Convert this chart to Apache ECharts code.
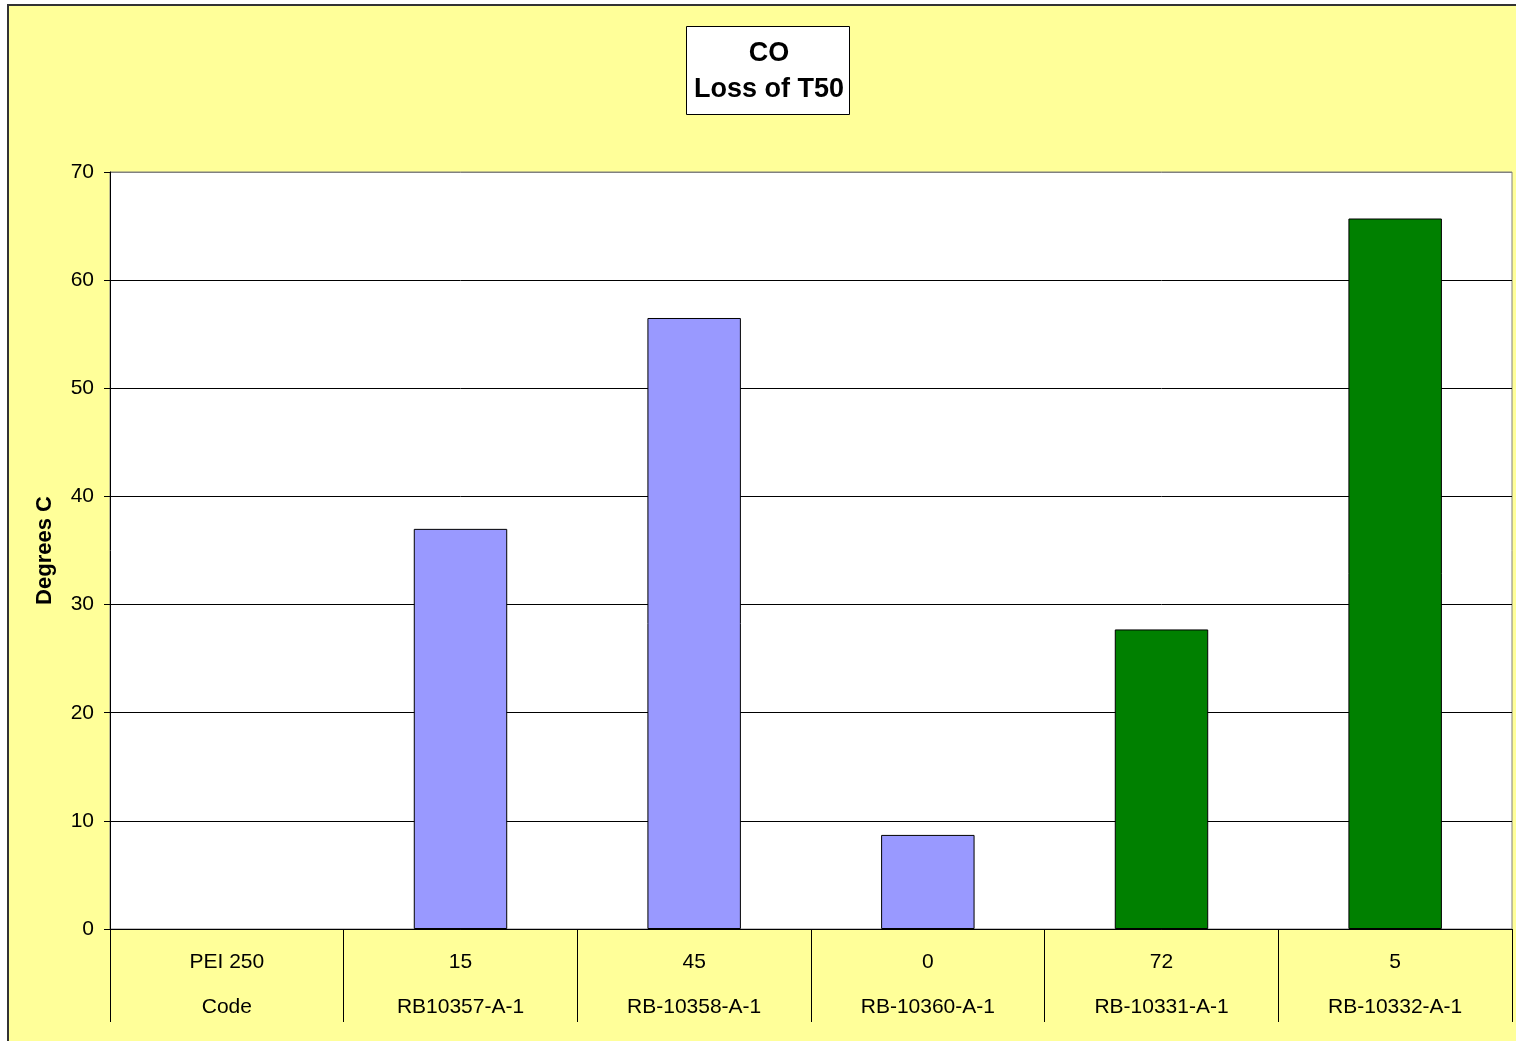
<!DOCTYPE html>
<html>
<head>
<meta charset="utf-8">
<title>CO Loss of T50</title>
<script src="https://cdn.jsdelivr.net/npm/echarts@6/dist/echarts.min.js"></script>
<style>
  html, body { margin: 0; padding: 0; background: #ffffff; }
  #chart { width: 1516px; height: 1041px; }
</style>
</head>
<body>
<div id="chart"></div>
<script>
// Catalyst samples: aging time (top row) and sample code (bottom row)
const agingLabels = ['PEI 250', '15', '45', '0', '72', '5'];
const sampleCodes = ['Code', 'RB10357-A-1', 'RB-10358-A-1', 'RB-10360-A-1', 'RB-10331-A-1', 'RB-10332-A-1'];
// Loss of T50 for CO, degrees C (first column is the header, no value)
const lossT50 = [null, 37, 56.5, 8.7, 27.7, 65.7];
// Fill per sample group
const barColors = ['#9999FF', '#9999FF', '#9999FF', '#9999FF', '#008000', '#008000'];
const yTicks = { min: 0, max: 70, interval: 10 };

const FONT = 'Liberation Sans, Arial, sans-serif';
const categories = agingLabels.map((a, i) => a + '\n' + sampleCodes[i]);

// Gridlines are black; the top one doubles as the grey plot-area border
const gridCount = (yTicks.max - yTicks.min) / yTicks.interval + 1;
const gridColors = Array.from({ length: gridCount }, (_, i) => (i === gridCount - 1 ? '#808080' : '#000000'));

const chart = echarts.init(document.getElementById('chart'), null, { renderer: 'canvas' });

chart.setOption({
  backgroundColor: '#ffffff',
  animation: false,
  graphic: [
    {
      type: 'rect',
      z: -10,
      silent: true,
      shape: { x: 8, y: 5, width: 1600, height: 1100 },
      style: { fill: '#FFFF99', stroke: '#333333', lineWidth: 2 }
    },
    {
      type: 'rect',
      z: 10,
      silent: true,
      shape: { x: 686.5, y: 26.5, width: 163, height: 88 },
      style: { fill: '#ffffff', stroke: '#000000', lineWidth: 1 }
    },
    {
      type: 'text',
      z: 11,
      silent: true,
      x: 769,
      y: 72,
      style: {
        text: 'CO\nLoss of T50',
        font: 'bold 27px ' + FONT,
        lineHeight: 36,
        fill: '#000000',
        align: 'center',
        verticalAlign: 'middle'
      }
    }
  ],
  grid: {
    left: 110,
    top: 172,
    right: 4,
    bottom: 112,
    show: true,
    backgroundColor: '#ffffff',
    borderColor: '#808080',
    borderWidth: 1,
    containLabel: false
  },
  xAxis: {
    type: 'category',
    data: categories,
    boundaryGap: true,
    axisLine: { show: true, lineStyle: { color: '#000000', width: 1 } },
    axisTick: {
      show: true,
      interval: 0,
      inside: false,
      length: 93,
      lineStyle: { color: '#000000', width: 1 }
    },
    axisLabel: {
      interval: 0,
      margin: 11,
      color: '#000000',
      fontFamily: FONT,
      fontSize: 21,
      lineHeight: 45
    },
    splitLine: { show: false }
  },
  yAxis: {
    type: 'value',
    min: yTicks.min,
    max: yTicks.max,
    interval: yTicks.interval,
    name: 'Degrees C',
    nameLocation: 'middle',
    nameRotate: 90,
    nameGap: 54,
    nameTextStyle: {
      color: '#000000',
      fontFamily: FONT,
      fontSize: 22,
      fontWeight: 'bold'
    },
    axisLine: { show: true, lineStyle: { color: '#000000', width: 1 } },
    axisTick: { show: true, length: 6, lineStyle: { color: '#000000', width: 1 } },
    axisLabel: {
      margin: 16,
      color: '#000000',
      fontFamily: FONT,
      fontSize: 21
    },
    splitLine: { show: true, lineStyle: { color: gridColors, width: 1 } }
  },
  series: [
    {
      type: 'bar',
      barWidth: '40%',
      data: lossT50.map((v, i) => ({
        value: v,
        itemStyle: { color: barColors[i], borderColor: '#000000', borderWidth: 1 }
      }))
    }
  ]
});
</script>
</body>
</html>
